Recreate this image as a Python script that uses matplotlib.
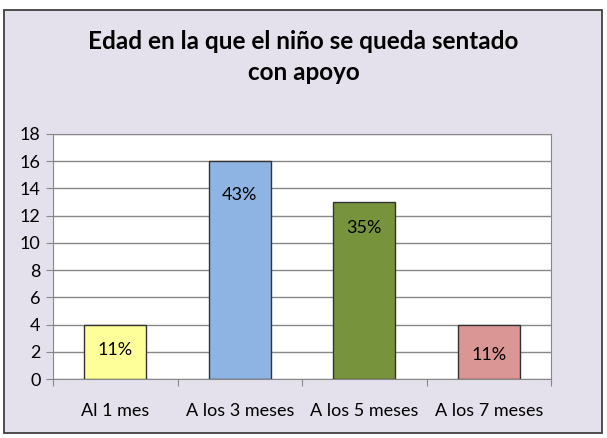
import matplotlib.pyplot as plt
from matplotlib.patches import Rectangle

categories = ["Al 1 mes", "A los 3 meses", "A los 5 meses", "A los 7 meses"]
values = [4, 16, 13, 4]
percent_labels = ["11%", "43%", "35%", "11%"]
colors = ["#FFFF99", "#8EB4E3", "#77933C", "#D99694"]

plt.rcParams["font.family"] = ["Lato", "DejaVu Sans"]

fig = plt.figure(figsize=(6.07, 4.38), dpi=100)
fig.patch.set_facecolor("white")
fig.patches.append(Rectangle((4 / 607, 5 / 438), 598 / 607, 423 / 438,
                             transform=fig.transFigure, facecolor="#E4E1EC",
                             edgecolor="#404040", linewidth=1.3, zorder=-1))

ax = fig.add_axes([53 / 607, 59 / 438, 498 / 607, 245 / 438])
ax.set_zorder(2)
ax.set_facecolor("white")

x = range(len(categories))
ax.bar(x, values, width=0.5, color=colors, edgecolor="#333333", linewidth=1, zorder=3)

# labels sit a bit below the top of each bar
offsets = [1.9, 2.5, 1.9, 2.25]
for i, (v, lab) in enumerate(zip(values, percent_labels)):
    ax.text(i, v - offsets[i], lab, ha="center", va="center", fontsize=13, zorder=4)

ax.set_xlim(-0.5, len(categories) - 0.5)
ax.set_ylim(0, 18)
ax.set_yticks(range(0, 19, 2))
ax.set_xticks([i + 0.5 for i in range(-1, len(categories))], minor=False)
ax.set_xticklabels([])
ax.set_xticks(list(x), minor=True)
ax.set_xticklabels(categories, minor=True)
ax.tick_params(axis="x", which="minor", length=0, pad=17, labelsize=13)
ax.tick_params(axis="x", which="major", length=5, color="#888888", direction="out")
ax.tick_params(axis="y", length=5, color="#888888", labelsize=13, pad=4)
ax.grid(axis="y", color="#888888", linewidth=1, zorder=0)
ax.set_axisbelow(True)
for side in ["top", "right", "left", "bottom"]:
    ax.spines[side].set_color("#888888")

fig.text(0.5, 1 - 57 / 438, "Edad en la que el niño se queda sentado\ncon apoyo", ha="center",
         va="center", fontsize=17.5, fontweight="bold", linespacing=1.4)

fig.savefig("out.png", dpi=100)
